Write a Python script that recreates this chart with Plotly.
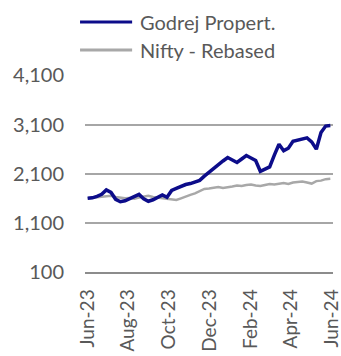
import plotly.graph_objects as go
import pandas as pd

dates = pd.date_range("2023-06-01", periods=53, freq="7D")

godrej_name = "Godrej Propert."
nifty_name = "Nifty - Rebased"

godrej = [1600, 1610, 1640, 1680, 1770, 1720, 1580, 1530, 1550, 1590,
          1640, 1680, 1590, 1540, 1570, 1630, 1670, 1620, 1760, 1800,
          1850, 1880, 1900, 1930, 1965, 2050, 2130, 2200, 2300, 2360,
          2430, 2380, 2330, 2400, 2470, 2420, 2370, 2150, 2200, 2240,
          2480, 2700, 2570, 2620, 2760, 2780, 2800, 2830, 2750, 2600,
          2940, 3070, 3080]

nifty = [1600, 1610, 1620, 1630, 1645, 1650, 1625, 1610, 1600, 1605,
         1590, 1615, 1640, 1650, 1625, 1610, 1600, 1590, 1575, 1565,
         1600, 1640, 1670, 1700, 1750, 1790, 1800, 1820, 1830, 1810,
         1820, 1840, 1860, 1850, 1870, 1880, 1860, 1850, 1870, 1890,
         1880, 1900, 1910, 1890, 1920, 1930, 1940, 1920, 1900, 1950,
         1960, 1990, 2000]

tick_dates = ["2023-06-01", "2023-08-01", "2023-10-01", "2023-12-01",
              "2024-02-01", "2024-04-01", "2024-06-01"]
tick_labels = ["Jun-23", "Aug-23", "Oct-23", "Dec-23", "Feb-24", "Apr-24", "Jun-24"]
y_ticks = [100, 1100, 2100, 3100, 4100]
y_labels = ["100", "1,100", "2,100", "3,100", "4,100"]

navy = "#0c0c8a"
grey = "#a8a8a8"
txt = "#595959"
font_family = "Lato, 'Open Sans', sans-serif"

fig = go.Figure()
fig.add_trace(go.Scatter(x=dates, y=nifty, mode="lines", name=nifty_name,
                         line=dict(color=grey, width=2.5)))
fig.add_trace(go.Scatter(x=dates, y=godrej, mode="lines", name=godrej_name,
                         line=dict(color=navy, width=3.5)))

# manual legend
legend_items = [(godrej_name, navy, 1.269), (nifty_name, grey, 1.127)]
for name, col, yy in legend_items:
    fig.add_shape(type="line", xref="paper", yref="paper",
                  x0=-0.02, x1=0.19, y0=yy, y1=yy,
                  line=dict(color=col, width=3))
    fig.add_annotation(xref="paper", yref="paper", x=0.215, y=yy,
                       text=name, showarrow=False, xanchor="left", yanchor="middle",
                       font=dict(family=font_family, size=20, color=txt))

fig.update_layout(
    width=341, height=356,
    margin=dict(l=85, r=8, t=75, b=84),
    paper_bgcolor="white", plot_bgcolor="white",
    showlegend=False,
    font=dict(family=font_family, size=19, color=txt),
)
fig.update_xaxes(
    type="date", range=["2023-05-28", "2024-06-03"],
    tickvals=tick_dates, ticktext=tick_labels, tickangle=-90,
    showgrid=False, showline=True, linecolor="#8c8c8c", linewidth=1.5,
    ticks="", zeroline=False, ticklabeloverflow="allow", automargin=False,
    tickfont=dict(size=19, color=txt), ticklabelstandoff=8,
)
fig.update_yaxes(
    range=[100, 4110], tickvals=y_ticks, ticktext=y_labels,
    showgrid=True, gridcolor="#a6a6a6", gridwidth=1.5, automargin=False,
    zeroline=False, showline=False, ticks="",
    tickfont=dict(size=20, color=txt), ticklabelstandoff=20,
)

fig.write_html("out.html")
